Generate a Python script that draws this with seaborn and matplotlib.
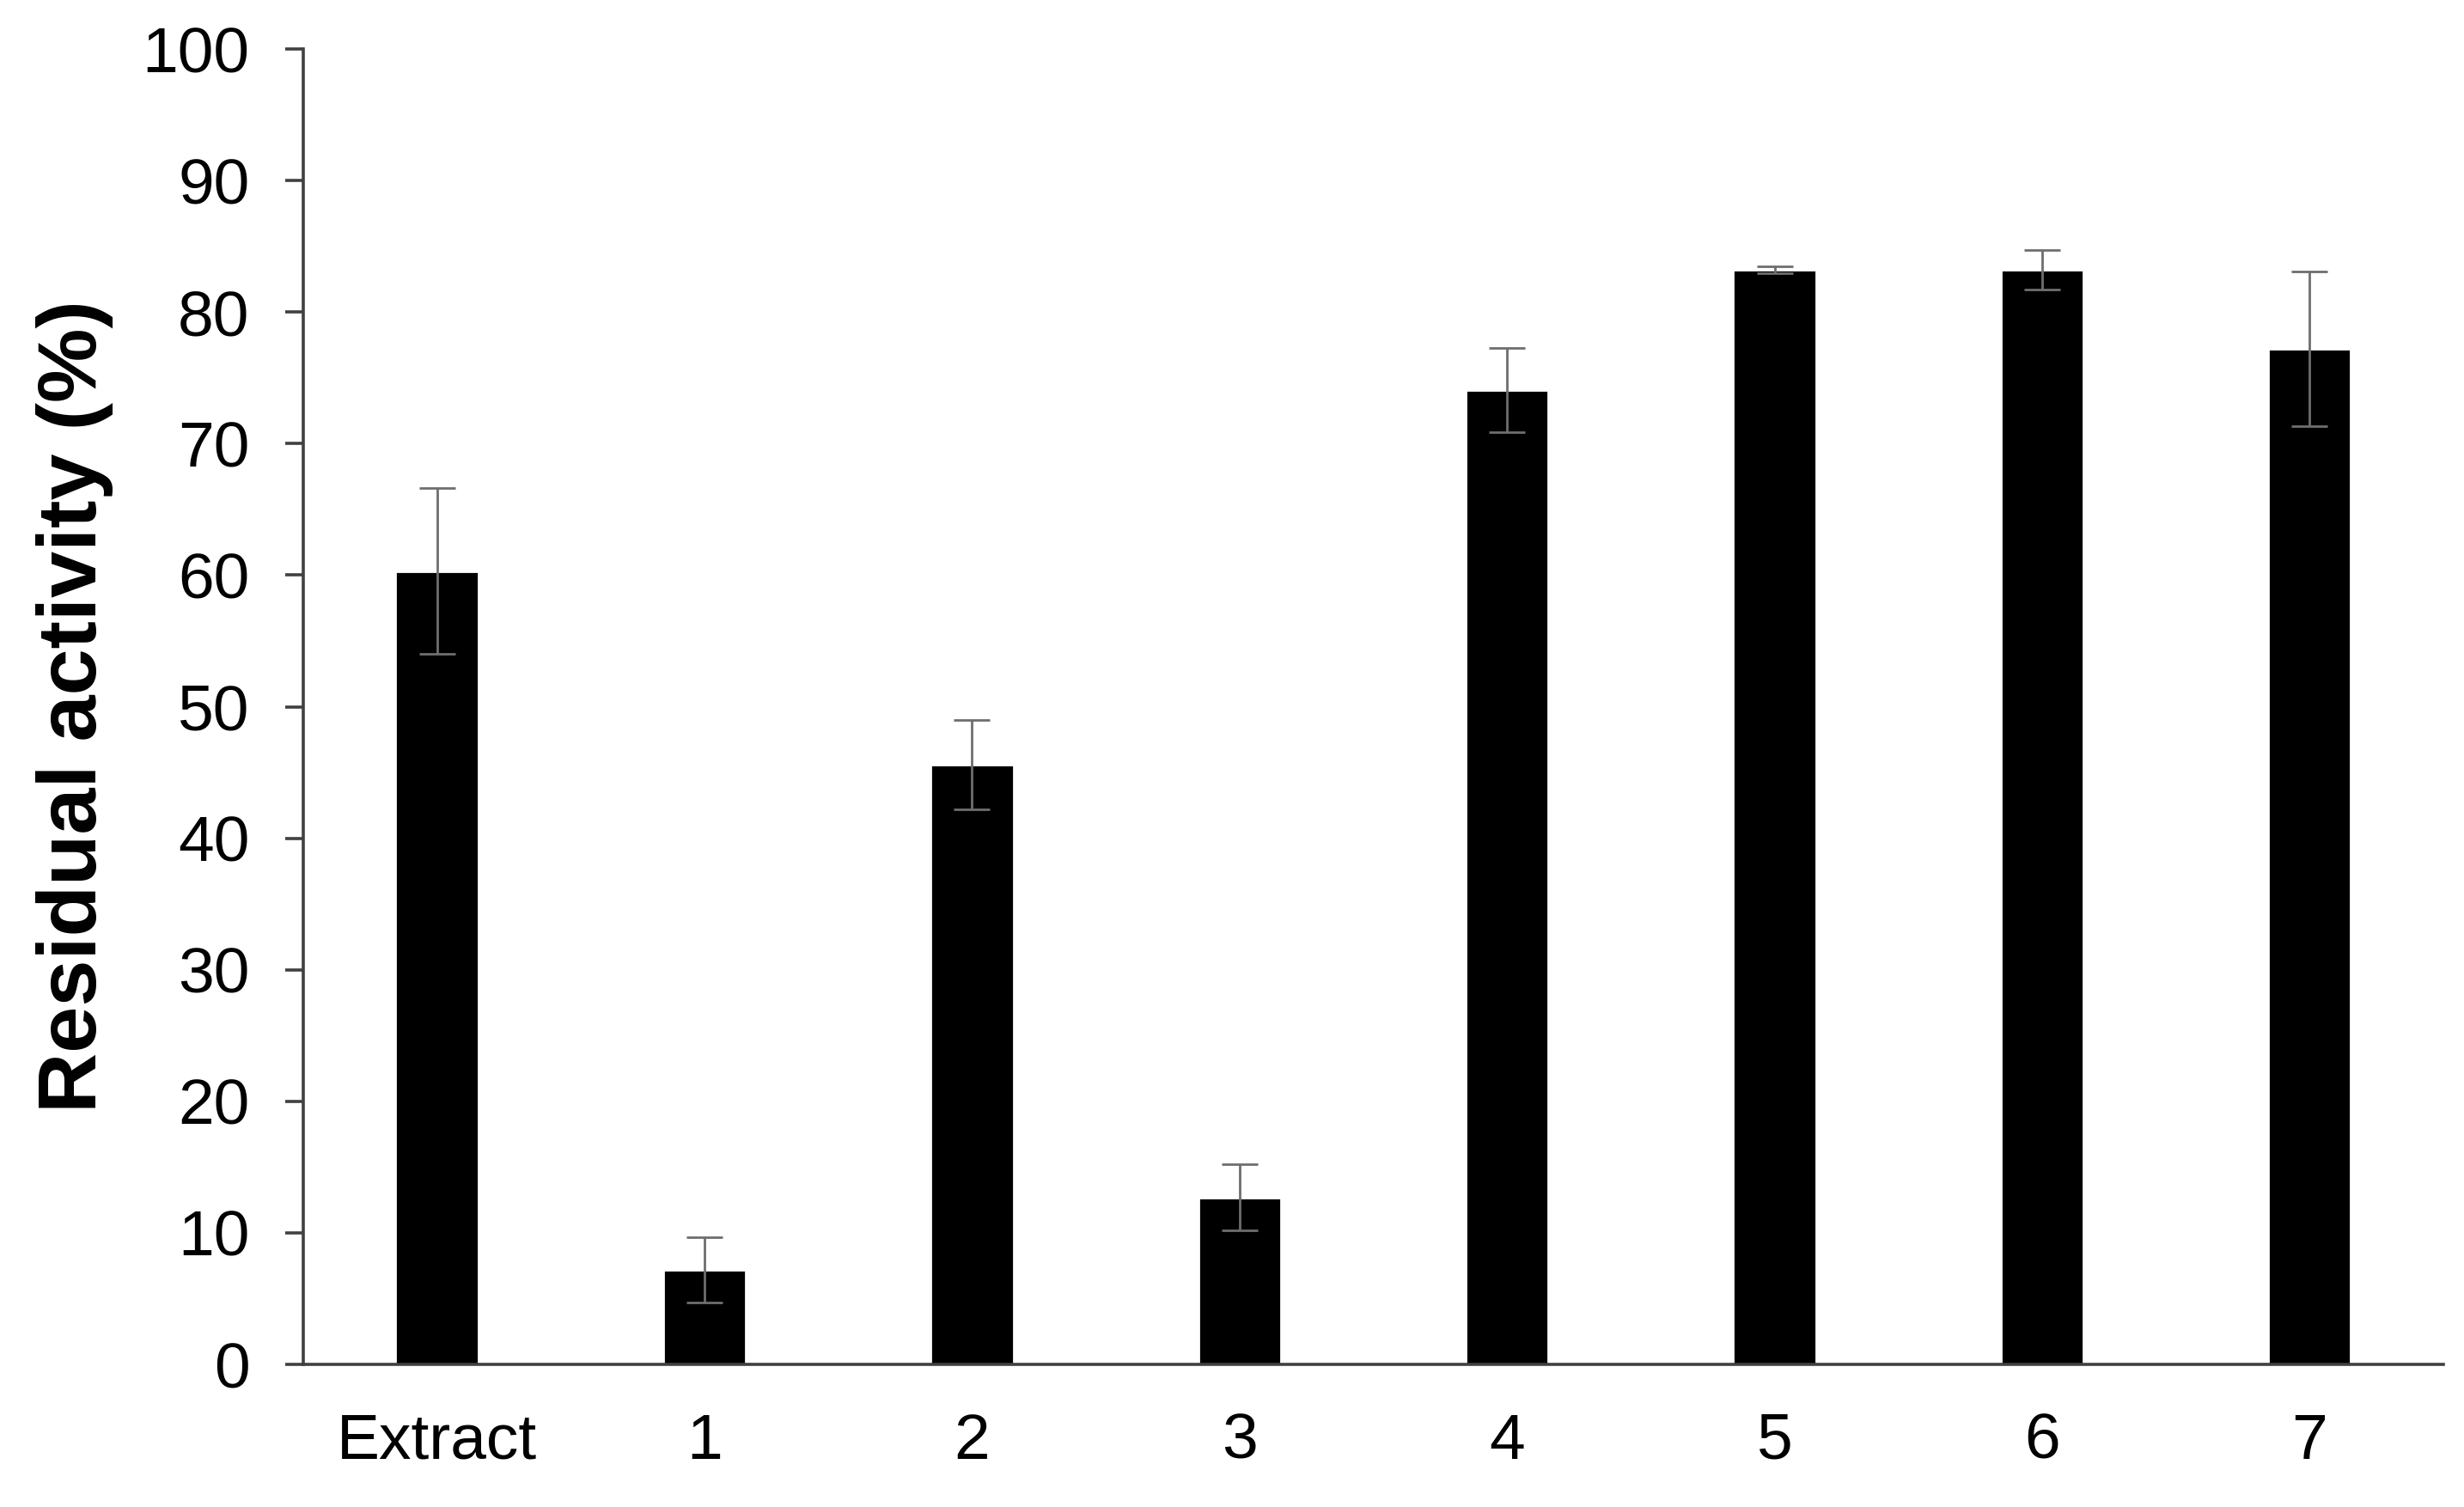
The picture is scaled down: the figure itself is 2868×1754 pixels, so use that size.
import pandas as pd
import matplotlib
matplotlib.use('Agg')
import matplotlib.pyplot as plt
import seaborn as sns

# Residual activity per sample
samples = ['Extract', '1', '2', '3', '4', '5', '6', '7']
activity = [60.3, 7.2, 45.6, 12.7, 74.1, 83.2, 83.2, 77.2]
activity_err = [6.3, 2.5, 3.4, 2.5, 3.2, 0.25, 1.5, 5.9]
y_ticks = [0, 10, 20, 30, 40, 50, 60, 70, 80, 90, 100]

df = pd.DataFrame({'sample': samples, 'activity': activity, 'err': activity_err})

sns.set_style('white')
plt.rcParams['font.family'] = ['Liberation Sans', 'DejaVu Sans']
plt.rcParams['text.color'] = 'black'
plt.rcParams['axes.labelcolor'] = 'black'
plt.rcParams['xtick.labelcolor'] = 'black'
plt.rcParams['ytick.labelcolor'] = 'black'

fig = plt.figure(figsize=(14.34, 8.77), dpi=200)
ax = fig.add_axes([0.1231, 0.0946, 0.8685, 0.8729])

sns.barplot(data=df, x='sample', y='activity', order=samples, color='black',
            width=0.31, errorbar=None, saturation=1, ax=ax)
ax.errorbar(range(len(samples)), df['activity'], yerr=df['err'], fmt='none',
            ecolor='#6e6e6e', elinewidth=1.0, capsize=7.5, capthick=1.0)

ax.set_xlim(-0.5, len(samples) - 0.5)
ax.set_ylim(0, 100)
ax.set_yticks(y_ticks)

ax.set_xlabel('')
ax.set_ylabel('Residual activity (%)', fontsize=35, fontweight='bold', labelpad=12,
              color='black')

for side in ['top', 'right']:
    ax.spines[side].set_visible(False)
for side in ['left', 'bottom']:
    ax.spines[side].set_color('#404040')
    ax.spines[side].set_linewidth(1.3)

ax.tick_params(axis='y', direction='out', length=7.5, width=1.3, color='#404040',
               pad=15, labelsize=27, left=True, labelcolor='black')
ax.tick_params(axis='x', length=0, pad=20, labelsize=27, labelcolor='black')

fig.savefig('out.png', dpi=200, facecolor='white')
